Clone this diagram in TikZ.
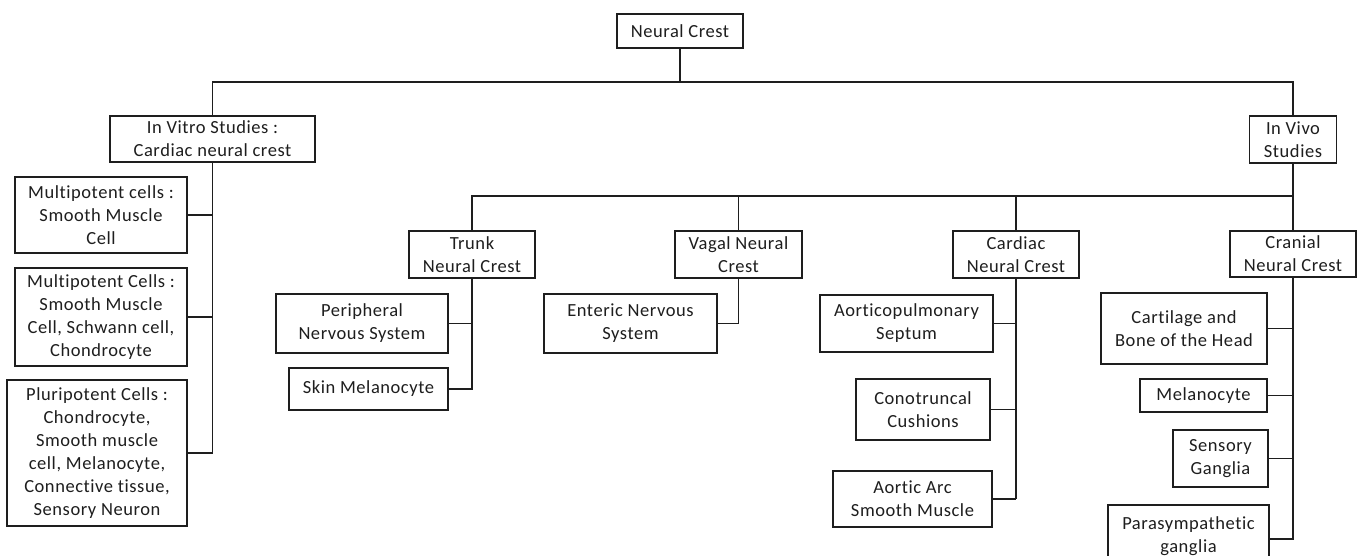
\documentclass[tikz,border=0pt]{standalone}
\usepackage{fontspec}
\setmainfont{Carlito}[Ligatures=NoCommon, LetterSpace=3]
\definecolor{ink}{HTML}{1E1E1E}
\begin{document}
\begin{tikzpicture}[x=1pt,y=-1pt,
  box/.style={draw=ink, line width=1.3pt, inner sep=0pt, align=center,
    text=ink, font=\fontsize{18.5}{23}\selectfont},
  link/.style={draw=ink, line width=1.3pt},
  thicklink/.style={draw=ink, line width=2.4pt}]
\fill[white] (0,0) rectangle (1360,556);
\useasboundingbox (0,0) rectangle (1360,556);

% top
\node[box, minimum width=126pt, minimum height=34pt] (nc) at (680,31) {Neural Crest};
\node[box, minimum width=205pt, minimum height=46pt] (vitro) at (212.5,139) {In Vitro Studies :\\Cardiac neural crest};
\node[box, minimum width=87pt, minimum height=47pt] (vivo) at (1293,139.5) {In Vivo\\Studies};

% in vitro children
\node[box, minimum width=172pt, minimum height=76pt] (m1) at (101,215) {Multipotent cells :\\Smooth Muscle\\Cell};
\node[box, minimum width=172pt, minimum height=98pt] (m2) at (101,317) {Multipotent Cells :\\Smooth Muscle\\Cell, Schwann cell,\\Chondrocyte};
\node[box, minimum width=180pt, minimum height=146pt] (p3) at (97,453) {Pluripotent Cells :\\Chondrocyte,\\Smooth muscle\\cell, Melanocyte,\\Connective tissue,\\Sensory Neuron};

% in vivo level
\node[box, minimum width=126pt, minimum height=47pt] (trunk) at (472,254.5) {Trunk\\Neural Crest};
\node[box, minimum width=127pt, minimum height=47pt] (vagal) at (738.5,254.5) {Vagal Neural\\Crest};
\node[box, minimum width=126pt, minimum height=47pt] (cardiac) at (1016,254.5) {Cardiac\\Neural Crest};
\node[box, minimum width=126pt, minimum height=46pt] (cranial) at (1293,254) {Cranial\\Neural Crest};

% trunk children
\node[box, minimum width=172pt, minimum height=59pt] (periph) at (362,323.5) {Peripheral\\Nervous System};
\node[box, minimum width=159pt, minimum height=42pt] (skin) at (368.5,389) {Skin Melanocyte};

% vagal child
\node[box, minimum width=173pt, minimum height=59pt] (enteric) at (630.5,323.5) {Enteric Nervous\\System};

% cardiac children
\node[box, minimum width=173pt, minimum height=57pt] (aorto) at (906.5,323.5) {Aorticopulmonary\\Septum};
\node[box, minimum width=134pt, minimum height=61pt] (cono) at (923,409.5) {Conotruncal\\Cushions};
\node[box, minimum width=159pt, minimum height=56pt] (arc) at (912.5,499) {Aortic Arc\\Smooth Muscle};

% cranial children
\node[box, minimum width=166pt, minimum height=71pt] (cart) at (1184,328.5) {Cartilage and\\Bone of the Head};
\node[box, minimum width=127pt, minimum height=33pt] (mel) at (1203.5,395.5) {Melanocyte};
\node[box, minimum width=95pt, minimum height=57pt] (sens) at (1220.5,458.5) {Sensory\\Ganglia};
\node[box, minimum width=161pt, minimum height=62pt] (para) at (1188.5,536) {Parasympathetic\\ganglia};

% buses
\coordinate (b1) at (680,82);
\coordinate (b2) at (1293,196);

\draw[link] (nc.south) -- (b1);
\draw[link] (vitro.north) |- (b1) -| (vivo.north);

\draw[link] (vitro.south) |- (p3.east);
\draw[link] (m1.east) -- (m1.east -| vitro.south);
\draw[link] (m2.east) -- (m2.east -| vitro.south);

\draw[link] (vivo.south) -- (b2);
\draw[link] (trunk.north) |- (b2);
\draw[link] (vagal.north) -- (vagal.north |- b2);
\draw[link] (cardiac.north) -- (cardiac.north |- b2);
\draw[link] (cranial.north) -- (cranial.north |- b2);

\draw[link] (trunk.south) |- (skin.east);
\draw[link] (periph.east) -- (periph.east -| trunk.south);

\draw[link] (vagal.south) |- (enteric.east);

\draw[thicklink] (cardiac.south) -- (cardiac.south |- arc.east);
\draw[link] (arc.east) -- (arc.east -| cardiac.south);
\draw[link] (aorto.east) -- (aorto.east -| cardiac.south);
\draw[link] (cono.east) -- (cono.east -| cardiac.south);

\draw[link] (cranial.south) |- ([yshift=-3pt]para.east);
\draw[link] (cart.east) -- (cart.east -| cranial.south);
\draw[link] (mel.east) -- (mel.east -| cranial.south);
\draw[link] (sens.east) -- (sens.east -| cranial.south);
\end{tikzpicture}
\end{document}
